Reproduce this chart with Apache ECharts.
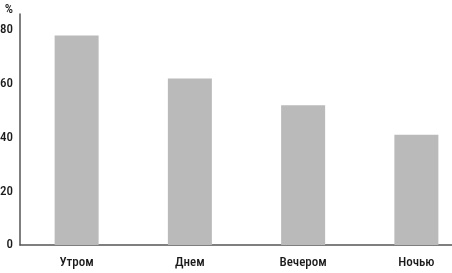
<!DOCTYPE html>
<html>
<head>
<meta charset="utf-8">
<script src="https://cdn.jsdelivr.net/npm/echarts@6/dist/echarts.min.js"></script>
<style>
  html, body { margin: 0; padding: 0; background: #fff; }
  #chart { width: 452px; height: 273px; }
</style>
</head>
<body>
<div id="chart"></div>
<script>
// данные графика
const categories = ["Утром", "Днем", "Вечером", "Ночью"];
const values = [78, 62, 52, 41];
const yTicks = [0, 20, 40, 60, 80];

const font = '"Liberation Sans Narrow", "Roboto Condensed", Roboto, sans-serif';
const textColor = "#1a1a1a";

const el = document.getElementById("chart");
const em = echarts.init(el, null, { renderer: "canvas" });

em.setOption({
  animation: false,
  grid: {
    left: 20,
    right: -21,
    top: 14,
    bottom: 28,
    containLabel: false,
    outerBoundsMode: "none"
  },
  xAxis: {
    type: "category",
    data: categories,
    axisLine: { lineStyle: { color: "#555", width: 1.5 } },
    axisTick: { show: false },
    axisLabel: { color: textColor, fontSize: 13, fontWeight: 500, fontFamily: font, margin: 11 }
  },
  yAxis: {
    type: "value",
    min: 0,
    max: 86,
    interval: 20,
    name: "%",
    nameLocation: "end",
    nameGap: 4,
    nameTextStyle: {
      color: textColor,
      fontSize: 13,
      fontWeight: 500,
      fontFamily: font,
      align: "right",
      verticalAlign: "middle",
      padding: [0, 7, 0, 0]
    },
    axisLine: { show: true, lineStyle: { color: "#555", width: 1.5 } },
    axisTick: { show: false },
    splitLine: { show: false },
    axisLabel: {
      color: textColor,
      fontSize: 13,
      fontWeight: 500,
      fontFamily: font,
      margin: 7,
      showMaxLabel: false,
      formatter: v => (yTicks.includes(v) ? String(v) : "")
    }
  },
  series: [
    {
      type: "bar",
      data: values,
      barWidth: 44,
      itemStyle: { color: "#bababa" }
    }
  ]
});
</script>
</body>
</html>
